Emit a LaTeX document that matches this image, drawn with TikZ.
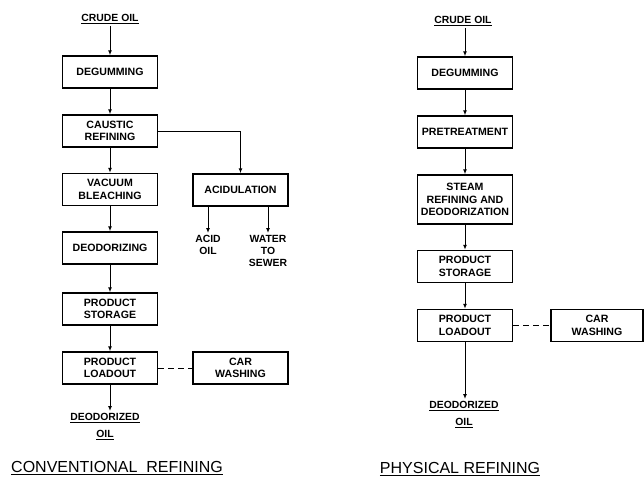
\documentclass[tikz,border=0pt]{standalone}
\usepackage{fontspec}
\setmainfont{Liberation Sans}
\usetikzlibrary{arrows.meta,positioning}

\begin{document}
\begin{tikzpicture}[x=1pt,y=-1pt,
  box/.style={draw,line width=1.5pt,minimum width=95pt,minimum height=32pt,
    inner sep=1pt,align=center,font=\fontsize{10.6}{12.5}\selectfont\bfseries},
  lbl/.style={align=center,inner sep=2pt,font=\fontsize{10.4}{12}\selectfont\bfseries},
  flow/.style={line width=1pt,-{Latex[length=5pt,width=4pt]}},
  link/.style={line width=1pt,dash pattern=on 6pt off 4pt},
  heading/.style={inner sep=1pt,font=\fontsize{16}{18}\selectfont}]
\useasboundingbox (0,0) rectangle (644,479);

% conventional refining
\node[lbl] (ccrude) at (110,19) {\underline{CRUDE OIL}};
\node[box] (cdeg)  at (110,72)    {DEGUMMING};
\node[box] (ccaus) at (110,131)   {CAUSTIC\\REFINING};
\node[box] (cvac)  at (110,189.5) {VACUUM\\BLEACHING};
\node[box] (cdeo)  at (110,248)   {DEODORIZING};
\node[box] (cstor) at (110,309)   {PRODUCT\\STORAGE};
\node[box] (cload) at (110,368)   {PRODUCT\\LOADOUT};
\node[box] (cacid) at (240.5,190) {ACIDULATION};
\node[box] (ccar)  at (240.5,368) {CAR\\WASHING};
\node[lbl,anchor=north] (cacidoil) at (208,233) {ACID\\OIL};
\node[lbl,anchor=north] (cwater)   at (268,233) {WATER\\TO\\SEWER};
\node[lbl,anchor=north] (cout) at (105,411) {\underline{DEODORIZED}\\[5pt]\underline{OIL}};
\node[heading] (ctitle) at (117,468) {\underline{CONVENTIONAL\ \ REFINING}};

\draw[flow] (cdeg.north |- ccrude.south) -- (cdeg);
\foreach \a/\b in {cdeg/ccaus,ccaus/cvac,cvac/cdeo,cdeo/cstor,cstor/cload}
  \draw[flow] (\a) -- (\b);
\draw[flow] (ccaus.east) -| (cacid.north);
\draw[flow] (cacid.south -| cacidoil) -- (cacidoil);
\draw[flow] (cacid.south -| cwater) -- (cwater);
\draw[flow] (cload) -- (cload.south |- cout.north);
\draw[link] (cload) -- (ccar);

% physical refining
\node[lbl] (pcrude) at (463,21) {\underline{CRUDE OIL}};
\node[box] (pdeg)   at (465,73)    {DEGUMMING};
\node[box] (ppre)   at (465,132)   {PRETREATMENT};
\node[box,minimum height=49pt] (psteam) at (465,199.5) {STEAM\\REFINING AND\\DEODORIZATION};
\node[box] (pstor)  at (465,266.5) {PRODUCT\\STORAGE};
\node[box] (pload)  at (465,325.5) {PRODUCT\\LOADOUT};
\node[box,minimum width=92pt] (pcar) at (597,325.5) {CAR\\WASHING};
\node[lbl,anchor=north] (pout) at (464,399) {\underline{DEODORIZED}\\[5pt]\underline{OIL}};
\node[heading] (ptitle) at (460,469) {\underline{PHYSICAL\ REFINING}};

\draw[flow] (pdeg.north |- pcrude.south) -- (pdeg);
\foreach \a/\b in {pdeg/ppre,ppre/psteam,psteam/pstor,pstor/pload}
  \draw[flow] (\a) -- (\b);
\draw[flow] (pload) -- (pload.south |- pout.north);
\draw[link] (pload) -- (pcar);
\end{tikzpicture}
\end{document}
